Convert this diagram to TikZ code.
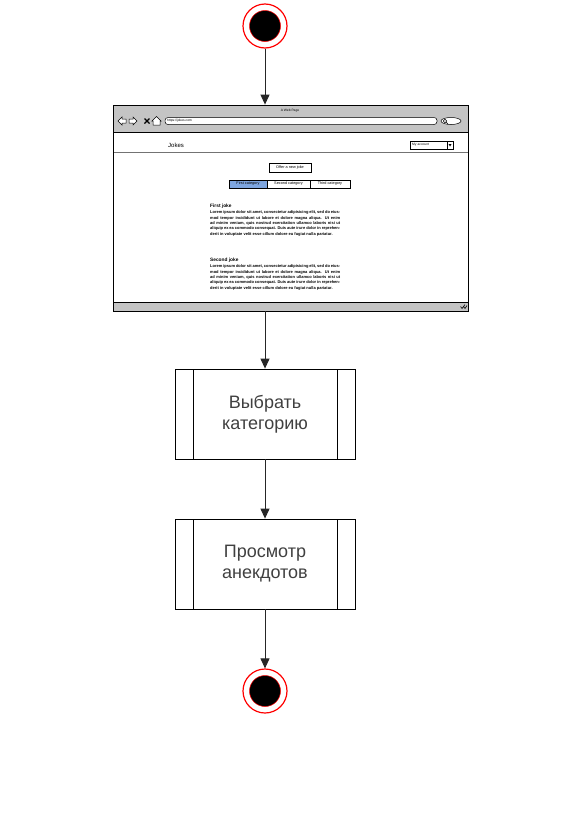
\documentclass[tikz,border=0pt]{standalone}
\usepackage{fontspec}
\setmainfont{Liberation Sans}
\usetikzlibrary{positioning, arrows.meta}

\definecolor{barfill}{HTML}{C4C4C4}
\definecolor{tabfill}{HTML}{7EA6E0}

\tikzset{
    flowline/.style={draw=black!85, line width=1pt, -{Triangle[width=9pt, length=10pt]}},
    terminal/.style={circle, draw=red, line width=1.2pt, minimum size=44pt, inner sep=0pt,
        path picture={\filldraw[fill=black, draw=red, line width=0.5pt] (path picture bounding box.center) circle (15.5pt);}},
    action/.style={draw, line width=0.8pt, minimum width=180pt, minimum height=90pt, inner sep=0pt,
        align=center, text=black!75, font=\fontsize{18}{21}\selectfont,
        path picture={
            \draw[line width=0.8pt] ([xshift=18pt]path picture bounding box.north west) -- ([xshift=18pt]path picture bounding box.south west);
            \draw[line width=0.8pt] ([xshift=-18pt]path picture bounding box.north east) -- ([xshift=-18pt]path picture bounding box.south east);
        }},
    tiny/.style={inner sep=0pt, font=\fontsize{3.8}{4.5}\selectfont},
    widget/.style={draw, line width=0.5pt, fill=white},
}

\begin{document}
\begin{tikzpicture}[x=1pt, y=-1pt]
    \useasboundingbox (0, 0) rectangle (560, 814);

    \node[terminal] (start) at (265, 26) {};

    % browser mock-up
    \fill[barfill] (113, 105) rectangle (468, 132);
    \fill[barfill] (113, 302) rectangle (468, 311);
    \draw[line width=0.6pt] (113, 132) -- (468, 132);
    \draw[line width=0.6pt] (113, 302) -- (468, 302);
    \node[tiny, font=\fontsize{3.3}{4}\selectfont] (title) at (290, 111) {A Web Page};

    \draw[widget] (118, 121) -- (122, 117) -- (122, 119) -- (126, 119) -- (126, 123) -- (122, 123) -- (122, 125) -- cycle;
    \draw[widget] (137, 121) -- (133, 117) -- (133, 119) -- (129, 119) -- (129, 123) -- (133, 123) -- (133, 125) -- cycle;
    \draw[line width=1.3pt] (144.5, 118.5) -- (149.5, 123.5) (144.5, 123.5) -- (149.5, 118.5);
    \draw[widget] (153, 125) -- (153, 121) -- (152, 121) -- (156.5, 116.5) -- (161, 121) -- (160, 121) -- (160, 125) -- cycle;
    \draw[widget, rounded corners=3pt] (165, 117.5) rectangle (437, 124.5);
    \node[tiny, anchor=west, font=\fontsize{3.3}{4}\selectfont] (url) at (167, 121) {https://jokes.com};
    \draw[widget] (451, 121) ellipse (10pt and 3.5pt);
    \draw[line width=0.5pt] (445, 121) circle (1.8pt) (446.3, 122.3) -- (448, 124);

    \node[inner sep=0pt, font=\fontsize{6}{7}\selectfont] (brand) at (176, 145) {Jokes};
    \draw[widget] (410, 141) rectangle (453, 149);
    \draw[line width=0.5pt] (447, 141) -- (447, 149);
    \fill (448.5, 144) -- (451.5, 144) -- (450, 146.5) -- cycle;
    \node[tiny, anchor=west, font=\fontsize{3.3}{4}\selectfont] (account) at (412, 145) {My account};
    \draw[black!55, line width=0.8pt] (113, 152) -- (468, 152);

    \draw[widget] (269, 163) rectangle (311, 172);
    \node[tiny] (offer) at (290, 167.5) {Offer a new joke};
    \draw[widget, fill=tabfill] (229, 180) rectangle (267, 188);
    \draw[widget] (267, 180) rectangle (310, 188);
    \draw[widget] (310, 180) rectangle (350, 188);
    \node[tiny] (tab1) at (248, 184) {First category};
    \node[tiny] (tab2) at (288.5, 184) {Second category};
    \node[tiny] (tab3) at (330, 184) {Third category};

    \node[tiny, anchor=west, font=\fontsize{4.8}{5}\selectfont\bfseries] (joke1) at (210, 206) {First joke};
    \node[tiny, anchor=north west, text width=130pt, align=justify, font=\fontsize{4}{5.4}\selectfont\bfseries] (text1) at (210, 210.5)
        {Lorem ipsum dolor sit amet, consectetur adipisicing elit, sed do eiusmod tempor incididunt ut labore et dolore magna aliqua. Ut enim ad minim veniam, quis nostrud exercitation ullamco laboris nisi ut aliquip ex ea commodo consequat. Duis aute irure dolor in reprehenderit in voluptate velit esse cillum dolore eu fugiat nulla pariatur.};
    \node[tiny, anchor=west, font=\fontsize{4.8}{5}\selectfont\bfseries] (joke2) at (210, 260) {Second joke};
    \node[tiny, anchor=north west, text width=130pt, align=justify, font=\fontsize{4}{5.4}\selectfont\bfseries] (text2) at (210, 264.5)
        {Lorem ipsum dolor sit amet, consectetur adipisicing elit, sed do eiusmod tempor incididunt ut labore et dolore magna aliqua. Ut enim ad minim veniam, quis nostrud exercitation ullamco laboris nisi ut aliquip ex ea commodo consequat. Duis aute irure dolor in reprehenderit in voluptate velit esse cillum dolore eu fugiat nulla pariatur.};
    \draw[line width=0.6pt] (460.5, 306.5) -- (462, 308.5) -- (465, 304.5) (463.5, 306.5) -- (465, 308.5) -- (467, 305.5);
    \node[draw, line width=0.8pt, minimum width=355pt, minimum height=206pt, inner sep=0pt] (page) at (290.5, 208) {};

    \node[action] (choose) at (265, 414) {Выбрать\\категорию};
    \node[action] (browse) at (265, 564) {Просмотр\\анекдотов};
    \node[terminal] (finish) at (265, 691) {};

    \draw[flowline] (start) -- (start |- page.north);
    \draw[flowline] (choose |- page.south) -- (choose);
    \draw[flowline] (choose) -- (browse);
    \draw[flowline] (browse) -- (finish);
\end{tikzpicture}
\end{document}
